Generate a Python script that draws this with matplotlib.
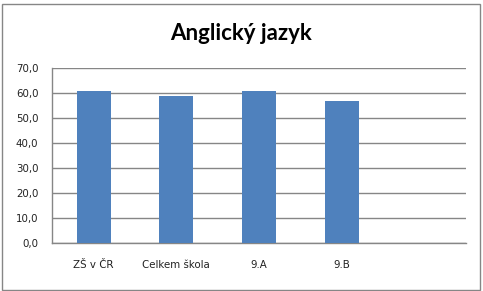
import matplotlib.pyplot as plt
from matplotlib.patches import Rectangle

# data
categories = ["ZŠ v ČR", "Celkem škola", "9.A", "9.B"]
values = [61.0, 59.0, 61.0, 57.0]
n_slots = 5  # chart reserves an empty fifth category slot
y_ticks = [0, 10, 20, 30, 40, 50, 60, 70]
y_labels = [f"{v:.1f}".replace(".", ",") for v in y_ticks]

BAR = "#4F81BD"
GRID = "#868686"

fig = plt.figure(figsize=(4.83, 2.91), dpi=100)
ax = fig.add_axes([52.3 / 483, 1 - 243.3 / 291, 413.4 / 483, 175 / 291])

x = list(range(len(categories)))
ax.bar(x, values, width=0.41, color=BAR, zorder=3)

ax.set_xlim(-0.5, n_slots - 0.5)
ax.set_ylim(0, 70)
ax.set_yticks(y_ticks)
ax.set_yticklabels(y_labels, fontsize=7.4, color="#222222")
ax.set_xticks(x)
ax.set_xticklabels(categories, fontsize=7.4, color="#222222")
ax.tick_params(axis="y", length=0, pad=10)
ax.tick_params(axis="x", length=0, pad=12)

ax.yaxis.grid(True, color=GRID, linewidth=1.0, zorder=0)
for side in ["top", "right"]:
    ax.spines[side].set_visible(False)
for side in ["left", "bottom"]:
    ax.spines[side].set_color(GRID)
    ax.spines[side].set_linewidth(1.0)

fig.text(0.5, 1 - 34 / 291, "Anglický jazyk", ha="center", va="center",
         fontsize=16, fontweight="bold", family="Lato")

# outer chart frame
fig.patches.append(Rectangle((1.5 / 483, 1.5 / 291), 478 / 483, 286 / 291,
                             transform=fig.transFigure, fill=False,
                             edgecolor="#868686", linewidth=1.0))

fig.savefig("out.png", dpi=100)
